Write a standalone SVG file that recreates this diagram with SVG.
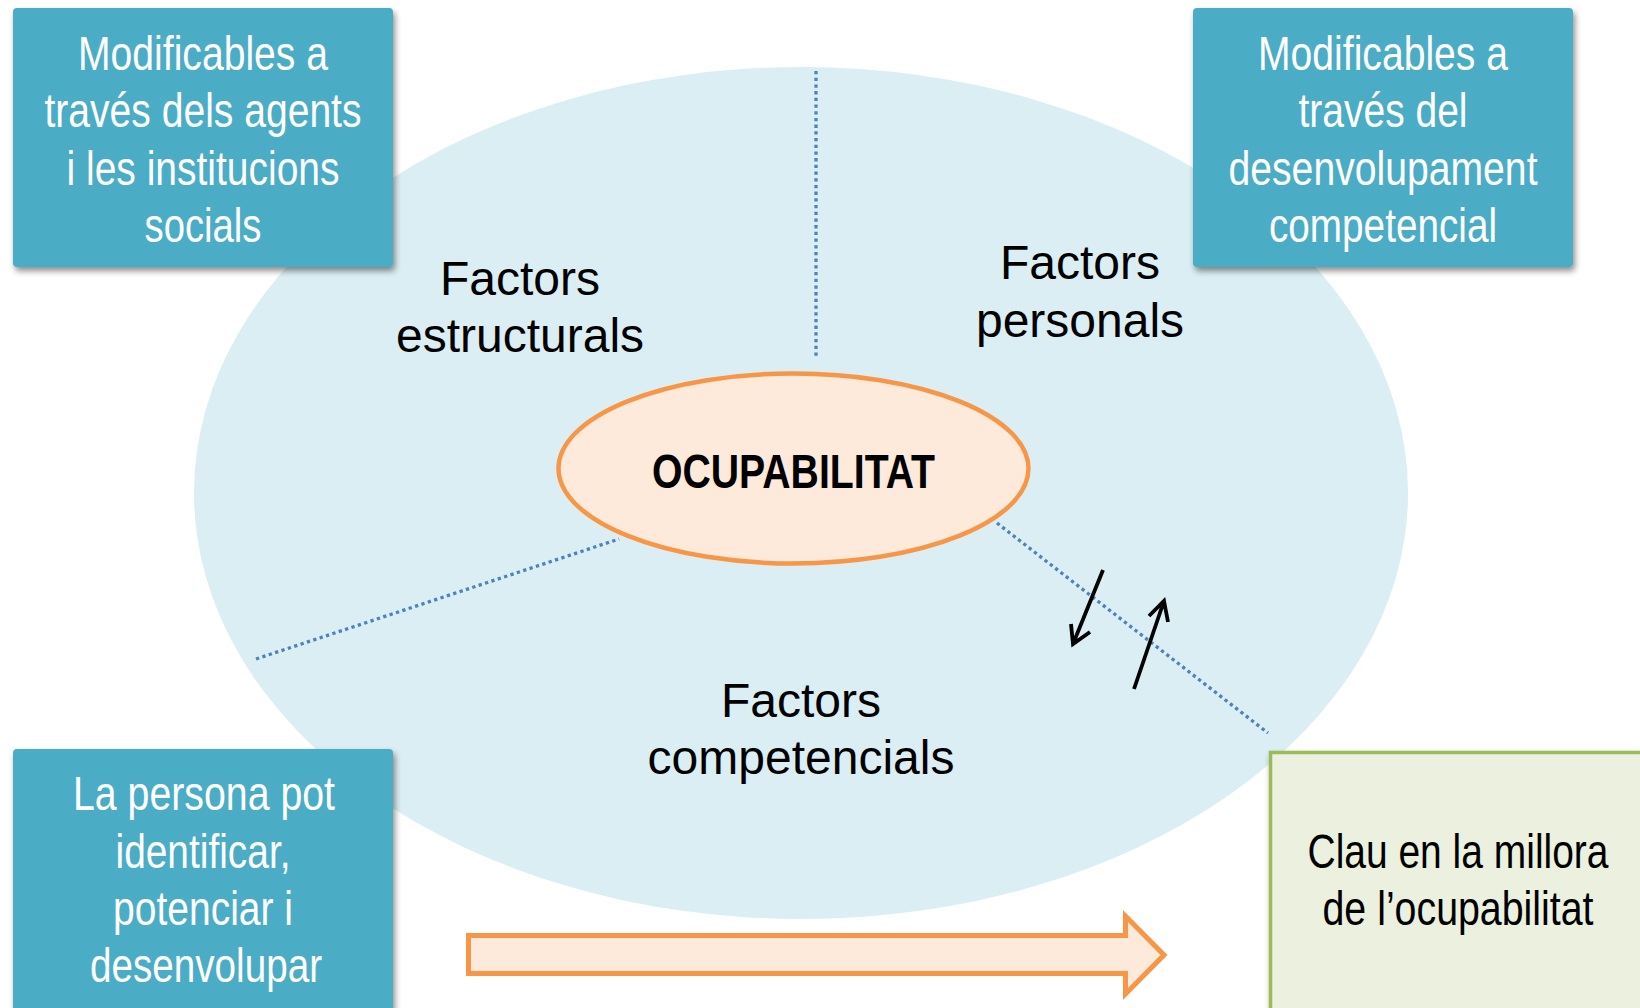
<svg xmlns="http://www.w3.org/2000/svg" width="1640" height="1008" viewBox="0 0 1640 1008">
<style>
.box{fill:#4BACC6;filter:url(#sh);}
.bt{font-family:"Liberation Sans Narrow","Arial Narrow","Liberation Sans",sans-serif;font-size:48px;fill:#ffffff;text-anchor:middle;}
.ft{font-family:"Liberation Sans",Arial,sans-serif;font-size:48px;fill:#000000;text-anchor:middle;}
.dot{stroke:#4F81BD;stroke-width:3.3;stroke-dasharray:3.3 3.4;fill:none;}
.arr{stroke:#000;stroke-width:3.8;fill:none;stroke-linecap:butt;}
</style>
<defs>
<filter id="sh" x="-10%" y="-10%" width="125%" height="125%">
<feGaussianBlur in="SourceAlpha" stdDeviation="3"/>
<feOffset dx="2" dy="4" result="b"/>
<feComponentTransfer><feFuncA type="linear" slope="0.45"/></feComponentTransfer>
<feMerge><feMergeNode/><feMergeNode in="SourceGraphic"/></feMerge>
</filter>
</defs>
<rect width="1640" height="1008" fill="#ffffff"/>
<g id="outer">
<ellipse cx="801" cy="493" rx="607" ry="426" fill="#DAEEF3"/>
</g>
<g id="connectors">
<line class="dot" x1="816" y1="71" x2="816" y2="356"/>
<line class="dot" x1="256" y1="659" x2="619" y2="539"/>
<line class="dot" x1="997" y1="523" x2="1268" y2="733"/>
<g id="arrows">
<path class="arr" d="M1103,570 L1073,644 M1071,624 L1073,644 L1090,632"/>
<path class="arr" d="M1134,689 L1164,601 M1149,616 L1164,601 L1168,622"/>
</g>
</g>
<g id="label-estructurals">
<text class="ft" x="520" y="295">Factors</text>
<text class="ft" x="520" y="352">estructurals</text>
</g>
<g id="label-personals">
<text class="ft" x="1080" y="279">Factors</text>
<text class="ft" x="1080" y="337">personals</text>
</g>
<g id="label-competencials">
<text class="ft" x="801" y="717">Factors</text>
<text class="ft" x="801" y="774">competencials</text>
</g>
<g id="ocupabilitat">
<ellipse cx="793.5" cy="468.5" rx="235" ry="95" fill="#FDEADA" stroke="#F79646" stroke-width="4.5"/>
<text x="793.5" y="488" font-family="'Liberation Sans Narrow','Arial Narrow','Liberation Sans',sans-serif" font-size="49" font-weight="bold" text-anchor="middle" fill="#000" textLength="283" lengthAdjust="spacingAndGlyphs">OCUPABILITAT</text>
</g>
<g id="box-agents">
<rect class="box" x="13" y="8" width="380" height="259" rx="4"/>
<text class="bt" x="203" y="70" textLength="250" lengthAdjust="spacingAndGlyphs">Modificables a</text>
<text class="bt" x="203" y="127" textLength="317" lengthAdjust="spacingAndGlyphs">través dels agents</text>
<text class="bt" x="203" y="185" textLength="273" lengthAdjust="spacingAndGlyphs">i les institucions</text>
<text class="bt" x="203" y="242" textLength="117" lengthAdjust="spacingAndGlyphs">socials</text>
</g>
<g id="box-desenvolupament">
<rect class="box" x="1193" y="8" width="380" height="259" rx="4"/>
<text class="bt" x="1383" y="70" textLength="250" lengthAdjust="spacingAndGlyphs">Modificables a</text>
<text class="bt" x="1383" y="127" textLength="169" lengthAdjust="spacingAndGlyphs">través del</text>
<text class="bt" x="1383" y="185" textLength="309" lengthAdjust="spacingAndGlyphs">desenvolupament</text>
<text class="bt" x="1383" y="242" textLength="228" lengthAdjust="spacingAndGlyphs">competencial</text>
</g>
<g id="box-persona">
<rect class="box" x="13" y="749" width="380" height="280" rx="4"/>
<text class="bt" x="204" y="810" textLength="262" lengthAdjust="spacingAndGlyphs">La persona pot</text>
<text class="bt" x="203" y="868" textLength="175" lengthAdjust="spacingAndGlyphs">identificar,</text>
<text class="bt" x="203" y="925" textLength="180" lengthAdjust="spacingAndGlyphs">potenciar i</text>
<text class="bt" x="206" y="982" textLength="232" lengthAdjust="spacingAndGlyphs">desenvolupar</text>
</g>
<g id="big-arrow">
<path d="M468.5,935.5 H1125.5 V916 L1164,955 L1125.5,994 V973.5 H468.5 Z" fill="#FDEADA" stroke="#F79646" stroke-width="5" stroke-linejoin="miter"/>
</g>
<g id="box-clau">
<rect x="1270.5" y="752.5" width="374" height="259" fill="#EBF1DE" stroke="#9BBB59" stroke-width="3.5" filter="url(#sh)"/>
<text x="1458" y="868" font-family="'Liberation Sans Narrow','Arial Narrow','Liberation Sans',sans-serif" font-size="48" text-anchor="middle" fill="#000" textLength="301" lengthAdjust="spacingAndGlyphs">Clau en la millora</text>
<text x="1458" y="925" font-family="'Liberation Sans Narrow','Arial Narrow','Liberation Sans',sans-serif" font-size="48" text-anchor="middle" fill="#000" textLength="271" lengthAdjust="spacingAndGlyphs">de l’ocupabilitat</text>
</g>
</svg>
